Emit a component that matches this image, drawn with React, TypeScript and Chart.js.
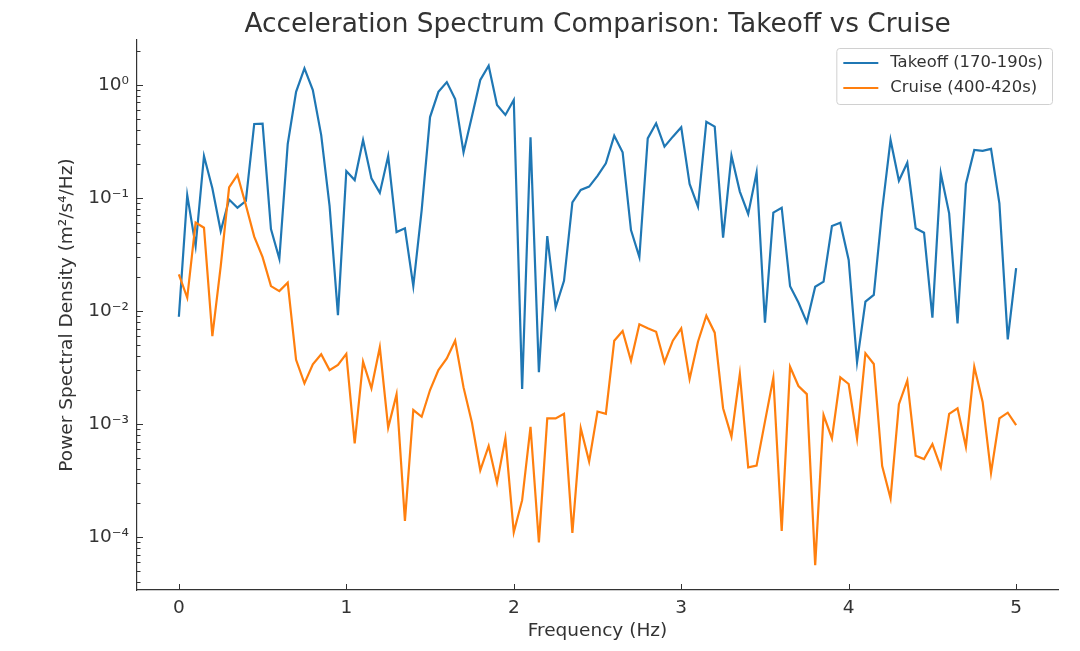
import { useEffect, useRef } from "react";
import { Chart, registerables } from "chart.js";

Chart.register(...registerables);

// frequency bins (Hz)
const freqHz = [
  0, 0.05, 0.1, 0.15, 0.2, 0.25, 0.3, 0.35, 0.4, 0.45,
  0.5, 0.55, 0.6, 0.65, 0.7, 0.75, 0.8, 0.85, 0.9, 0.95,
  1, 1.05, 1.1, 1.15, 1.2, 1.25, 1.3, 1.35, 1.4, 1.45,
  1.5, 1.55, 1.6, 1.65, 1.7, 1.75, 1.8, 1.85, 1.9, 1.95,
  2, 2.05, 2.1, 2.15, 2.2, 2.25, 2.3, 2.35, 2.4, 2.45,
  2.5, 2.55, 2.6, 2.65, 2.7, 2.75, 2.8, 2.85, 2.9, 2.95,
  3, 3.05, 3.1, 3.15, 3.2, 3.25, 3.3, 3.35, 3.4, 3.45,
  3.5, 3.55, 3.6, 3.65, 3.7, 3.75, 3.8, 3.85, 3.9, 3.95,
  4, 4.05, 4.1, 4.15, 4.2, 4.25, 4.3, 4.35, 4.4, 4.45,
  4.5, 4.55, 4.6, 4.65, 4.7, 4.75, 4.8, 4.85, 4.9, 4.95,
  5,
];

// PSD, takeoff window
const takeoffPsd = [
  0.0089, 0.106, 0.0376, 0.235, 0.122, 0.051, 0.097, 0.082, 0.094, 0.452,
  0.455, 0.053, 0.029, 0.3, 0.87, 1.4, 0.9, 0.36, 0.085, 0.0092,
  0.173, 0.144, 0.326, 0.149, 0.111, 0.235, 0.05, 0.054, 0.0166, 0.078,
  0.52, 0.87, 1.06, 0.75, 0.254, 0.525, 1.107, 1.48, 0.665, 0.543,
  0.736, 0.00204, 0.344, 0.00287, 0.046, 0.0108, 0.0185, 0.0916, 0.118, 0.126,
  0.157, 0.203, 0.356, 0.254, 0.052, 0.03, 0.337, 0.458, 0.285, 0.349,
  0.422, 0.133, 0.0838, 0.473, 0.428, 0.0446, 0.237, 0.114, 0.0722, 0.168,
  0.00788, 0.0742, 0.082, 0.0166, 0.0119, 0.00794, 0.0164, 0.0182, 0.0565, 0.0605,
  0.0283, 0.00352, 0.0121, 0.0139, 0.0783, 0.326, 0.142, 0.205, 0.054, 0.0493,
  0.00873, 0.165, 0.0732, 0.00778, 0.133, 0.266, 0.261, 0.272, 0.0897, 0.0056,
  0.0239,
];

// PSD, cruise window
const cruisePsd = [
  0.0211, 0.0131, 0.0605, 0.0546, 0.006, 0.025, 0.124, 0.16, 0.0867, 0.0455,
  0.03, 0.0166, 0.015, 0.0178, 0.0037, 0.00229, 0.00337, 0.00414, 0.003, 0.00333,
  0.00417, 0.000675, 0.00356, 0.00207, 0.00477, 0.00093, 0.00183, 0.000139, 0.00133, 0.00116,
  0.002, 0.003, 0.0038, 0.00546, 0.00211, 0.00103, 0.00039, 0.00064, 0.000303, 0.000747,
  0.00011, 0.000212, 0.000946, 0.0000898, 0.00112, 0.00112, 0.00123, 0.000109, 0.000916, 0.000465,
  0.00129, 0.00123, 0.00546, 0.00666, 0.00363, 0.00762, 0.00703, 0.00656, 0.00351, 0.00546,
  0.00703, 0.0025, 0.00535, 0.00908, 0.00643, 0.00138, 0.000773, 0.00277, 0.000414, 0.000428,
  0.00105, 0.00257, 0.000113, 0.00321, 0.00217, 0.00184, 0.0000565, 0.0012, 0.000747, 0.00259,
  0.00226, 0.000747, 0.00423, 0.0034, 0.000425, 0.00022, 0.0015, 0.00242, 0.000525, 0.00049,
  0.000665, 0.000414, 0.00123, 0.00138, 0.00063, 0.00321, 0.00157, 0.00037, 0.00112, 0.00126,
  0.00098,
];

const seriesLabels = ["Takeoff (170-190s)", "Cruise (400-420s)"];
const xTicks = [0, 1, 2, 3, 4, 5];
const yDecades = [1e-4, 1e-3, 1e-2, 1e-1, 1];

const TITLE = "Acceleration Spectrum Comparison: Takeoff vs Cruise";
const X_LABEL = "Frequency (Hz)";
const Y_LABEL = "Power Spectral Density (m²/s⁴/Hz)";

const FONT = "'DejaVu Sans', sans-serif";
const TEXT = "#333333";
const BLUE = "#1f77b4";
const ORANGE = "#ff7f0e";

const SUP: Record<string, string> = {
  "-": "⁻", "0": "⁰", "1": "¹", "2": "²", "3": "³", "4": "⁴",
  "5": "⁵", "6": "⁶", "7": "⁷", "8": "⁸", "9": "⁹",
};

function decadeLabel(v: number): string {
  const exp = Math.round(Math.log10(v));
  if (Math.abs(Math.log10(v) - exp) > 1e-6) return "";
  return "10" + String(exp).split("").map((c) => SUP[c]).join("");
}

// title, axis labels, inward ticks, legend box
const decorPlugin = {
  id: "decor",
  afterDraw(chart: any) {
    const { ctx, chartArea } = chart;
    const xs = chart.scales.x;
    const ys = chart.scales.y;
    ctx.save();

    ctx.strokeStyle = TEXT;
    ctx.lineWidth = 1;
    ctx.beginPath();
    xTicks.forEach((v) => {
      const px = Math.round(xs.getPixelForValue(v)) + 0.5;
      ctx.moveTo(px, chartArea.bottom);
      ctx.lineTo(px, chartArea.bottom - 6);
    });
    for (let e = -5; e <= 0; e++) {
      for (let m = 1; m <= 9; m++) {
        const v = m * Math.pow(10, e);
        if (v < ys.min || v > ys.max) continue;
        const py = Math.round(ys.getPixelForValue(v)) + 0.5;
        ctx.moveTo(chartArea.left, py);
        ctx.lineTo(chartArea.left + (m === 1 ? 6 : 3.5), py);
      }
    }
    ctx.stroke();

    const midX = (chartArea.left + chartArea.right) / 2;
    ctx.fillStyle = TEXT;
    ctx.textAlign = "center";
    ctx.textBaseline = "alphabetic";
    ctx.font = `26.4px ${FONT}`;
    ctx.fillText(TITLE, midX, 32);

    ctx.font = `18.5px ${FONT}`;
    ctx.textBaseline = "middle";
    ctx.fillText(X_LABEL, midX, 631);

    ctx.translate(67, (chartArea.top + chartArea.bottom) / 2);
    ctx.rotate(-Math.PI / 2);
    ctx.fillText(Y_LABEL, 0, 0);
    ctx.setTransform(1, 0, 0, 1, 0, 0);
    ctx.restore();

    // legend
    ctx.save();
    ctx.font = `16.4px ${FONT}`;
    const sets = chart.data.datasets;
    const textW = Math.max(...sets.map((d: any) => ctx.measureText(d.label).width));
    const boxW = 7 + 35 + 12 + textW + 9;
    const boxH = 56;
    const bx = chartArea.right - 6 - boxW;
    const by = chartArea.top + 8;
    ctx.beginPath();
    ctx.roundRect(bx + 0.5, by + 0.5, boxW, boxH, 3);
    ctx.fillStyle = "rgba(255,255,255,0.8)";
    ctx.fill();
    ctx.strokeStyle = "#d0d0d0";
    ctx.lineWidth = 1;
    ctx.stroke();
    sets.forEach((d: any, i: number) => {
      const ry = by + 15 + i * 25;
      ctx.beginPath();
      ctx.strokeStyle = d.borderColor;
      ctx.lineWidth = 2.2;
      ctx.moveTo(bx + 7, ry);
      ctx.lineTo(bx + 42, ry);
      ctx.stroke();
      ctx.fillStyle = TEXT;
      ctx.textAlign = "left";
      ctx.textBaseline = "middle";
      ctx.fillText(d.label, bx + 54, ry);
    });
    ctx.restore();
  },
};

export default function App() {
  const canvasRef = useRef<HTMLCanvasElement>(null);

  useEffect(() => {
    if (!canvasRef.current) return;
    const chart = new Chart(canvasRef.current, {
      type: "line",
      data: {
        datasets: [
          {
            label: seriesLabels[0],
            data: freqHz.map((f, i) => ({ x: f, y: takeoffPsd[i] })),
            borderColor: BLUE,
            borderWidth: 2.2,
            pointRadius: 0,
            tension: 0,
            order: 2,
          },
          {
            label: seriesLabels[1],
            data: freqHz.map((f, i) => ({ x: f, y: cruisePsd[i] })),
            borderColor: ORANGE,
            borderWidth: 2.2,
            pointRadius: 0,
            tension: 0,
            order: 1,
          },
        ],
      },
      options: {
        animation: false,
        responsive: true,
        maintainAspectRatio: false,
        events: [],
        layout: { padding: { top: 40, right: 22, left: 0, bottom: 0 } },
        plugins: {
          legend: { display: false },
          tooltip: { enabled: false },
          title: { display: false },
        },
        scales: {
          x: {
            type: "linear",
            min: -0.25,
            max: 5.25,
            afterFit: (s: any) => {
              s.height = 61;
            },
            afterBuildTicks: (s: any) => {
              s.ticks = xTicks.map((value) => ({ value }));
            },
            grid: { display: false, drawTicks: false },
            border: { display: true, color: TEXT, width: 1.2 },
            ticks: {
              autoSkip: false,
              maxRotation: 0,
              padding: 7,
              color: TEXT,
              font: { family: FONT, size: 18.5 },
              callback: (v: any) => String(v),
            },
          },
          y: {
            type: "logarithmic",
            min: 3.4e-5,
            max: 2.5,
            afterFit: (s: any) => {
              s.width = 137;
            },
            afterBuildTicks: (s: any) => {
              s.ticks = yDecades.map((value) => ({ value, major: true }));
            },
            grid: { display: false, drawTicks: false },
            border: { display: true, color: TEXT, width: 1.2 },
            ticks: {
              autoSkip: false,
              padding: 8,
              color: TEXT,
              font: { family: FONT, size: 18.5 },
              callback: (v: any) => decadeLabel(Number(v)),
            },
          },
        },
      },
      plugins: [decorPlugin],
    });
    return () => chart.destroy();
  }, []);

  return (
    <div style={{ position: "absolute", left: 0, top: 0, width: 1080, height: 651, background: "#fff" }}>
      <canvas ref={canvasRef} />
    </div>
  );
}
